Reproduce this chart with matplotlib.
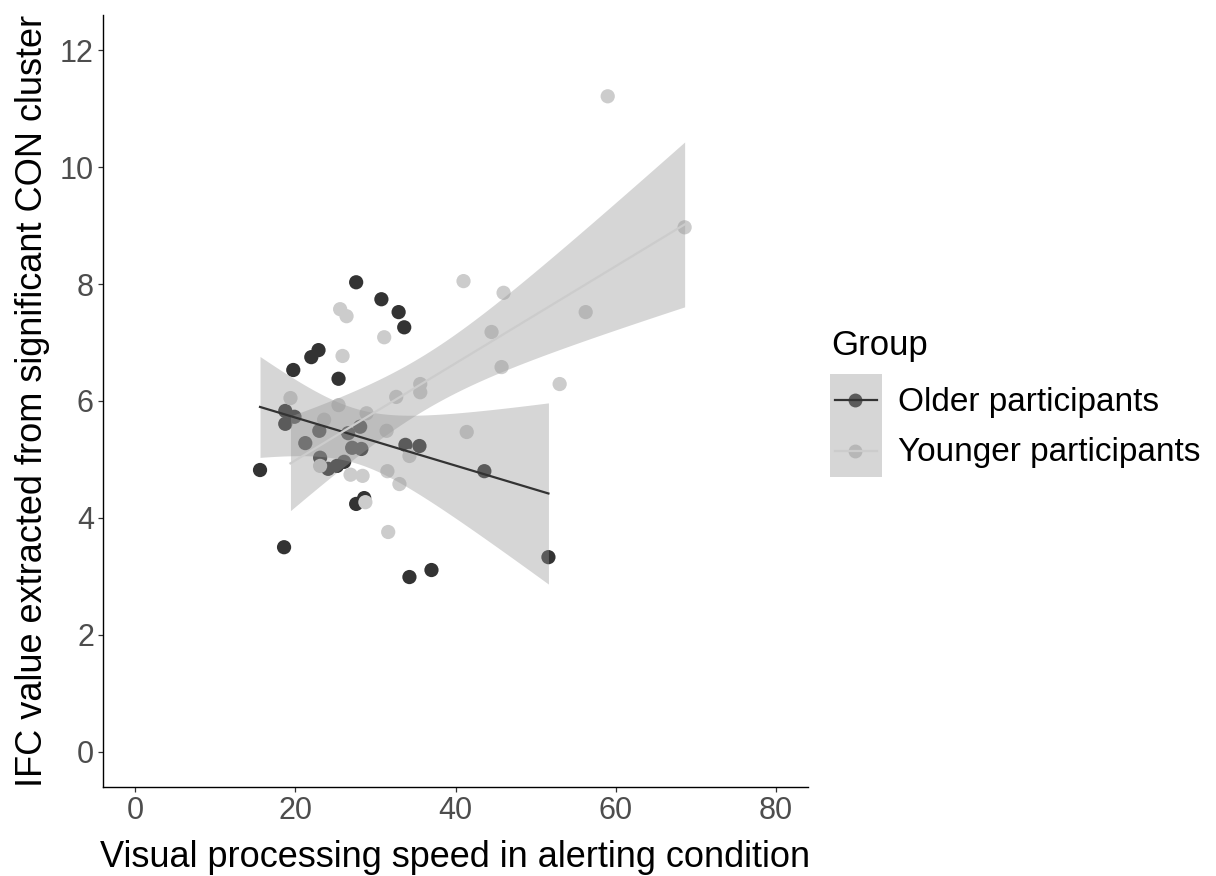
import numpy as np
import matplotlib
matplotlib.use("Agg")
import matplotlib.pyplot as plt
from matplotlib.patches import Rectangle
from matplotlib.lines import Line2D

plt.rcParams['font.family'] = ['Liberation Sans', 'DejaVu Sans']

# older participants
old_x = [15.6, 18.6, 18.75, 18.75, 19.75, 19.9, 21.25, 22.0, 22.9, 23.0,
         23.1, 24.1, 25.2, 26.1, 25.4, 26.6, 27.1, 27.6, 27.6, 28.1,
         28.25, 28.6, 30.75, 32.9, 33.6, 33.75, 34.25, 35.5, 37.0, 43.6,
         51.6]
old_y = [4.82, 3.50, 5.83, 5.61, 6.53, 5.73, 5.28, 6.75, 6.87, 5.49,
         5.03, 4.84, 4.89, 4.96, 6.38, 5.45, 5.20, 8.03, 4.24, 5.56,
         5.18, 4.34, 7.74, 7.52, 7.26, 5.25, 2.99, 5.23, 3.11, 4.80,
         3.33]

# younger participants
young_x = [19.4, 23.6, 23.1, 25.4, 25.9, 25.6, 26.4, 28.9, 31.1, 31.4,
           32.6, 35.6, 35.6, 34.25, 26.9, 28.4, 31.5, 33.0, 28.75, 31.6,
           41.0, 46.0, 56.25, 44.5, 45.75, 53.0, 41.4, 59.0, 68.6]
young_y = [6.05, 5.68, 4.89, 5.93, 6.77, 7.57, 7.45, 5.79, 7.09, 5.49,
           6.07, 6.29, 6.15, 5.06, 4.74, 4.72, 4.80, 4.58, 4.27, 3.76,
           8.05, 7.85, 7.52, 7.18, 6.58, 6.29, 5.47, 11.21, 8.97]

groups = ["Older participants", "Younger participants"]
colors = ["#333333", "#CCCCCC"]

W, H = 1216, 876


def fx(px):
    return px / W


def fy(py):
    return 1 - py / H


def lm_band(x, y, tval=2.04, n_pts=80):
    x = np.asarray(x, float)
    y = np.asarray(y, float)
    n = len(x)
    b, a = np.polyfit(x, y, 1)
    res = y - (a + b * x)
    s = np.sqrt(np.sum(res ** 2) / (n - 2))
    sxx = np.sum((x - x.mean()) ** 2)
    xs = np.linspace(x.min(), x.max(), n_pts)
    fit = a + b * xs
    se = s * np.sqrt(1.0 / n + (xs - x.mean()) ** 2 / sxx)
    return xs, fit, fit - tval * se, fit + tval * se


fig = plt.figure(figsize=(W / 100, H / 100), dpi=100)
ax = fig.add_axes([fx(103), fy(787), fx(808) - fx(103), fy(15) - fy(787)])

data = [(old_x, old_y), (young_x, young_y)]
for (xv, yv), c in zip(data, colors):
    ax.scatter(xv, yv, s=105, color=c, edgecolors='none', zorder=2)

for (xv, yv), c in zip(data, colors):
    xs, fit, lo, hi = lm_band(xv, yv)
    ax.fill_between(xs, lo, hi, color='#999999', alpha=0.4, lw=0, zorder=3)
    ax.plot(xs, fit, color=c, lw=1.6, zorder=4)

ax.set_xlim(-4, 84)
ax.set_ylim(-0.6, 12.6)
ax.set_xticks([0, 20, 40, 60, 80])
ax.set_yticks([0, 2, 4, 6, 8, 10, 12])
for sp in ['top', 'right']:
    ax.spines[sp].set_visible(False)
for sp in ['left', 'bottom']:
    ax.spines[sp].set_linewidth(1.0)
    ax.spines[sp].set_color('black')
ax.tick_params(direction='out', length=3.5, width=0.9, color='#333333',
               labelsize=22, labelcolor='#4D4D4D', pad=3)

ax.set_xlabel("Visual processing speed in alerting condition", fontsize=26, labelpad=10)
ax.set_ylabel("IFC value extracted from significant CON cluster", fontsize=26, labelpad=7)

# legend drawn by hand
fig.text(fx(831), fy(345), "Group", fontsize=25, va='center', ha='left')
key_y = [400, 451]
for i, (g, c) in enumerate(zip(groups, colors)):
    yc = key_y[i]
    fig.add_artist(Line2D([fx(855)], [fy(yc)], marker='o', markersize=10,
                          color=c, markeredgewidth=0, zorder=5))
    fig.text(fx(898), fy(yc + 2), g, fontsize=24, va='center', ha='left')
fig.add_artist(Rectangle((fx(830), fy(477)), fx(882) - fx(830), fy(374) - fy(477),
                         transform=fig.transFigure, facecolor='#999999', alpha=0.4,
                         lw=0, zorder=6))
for i, c in enumerate(colors):
    yc = key_y[i]
    fig.add_artist(Line2D([fx(835), fx(877)], [fy(yc), fy(yc)], color=c, lw=1.6, zorder=7))

fig.savefig("out.png", dpi=100)
